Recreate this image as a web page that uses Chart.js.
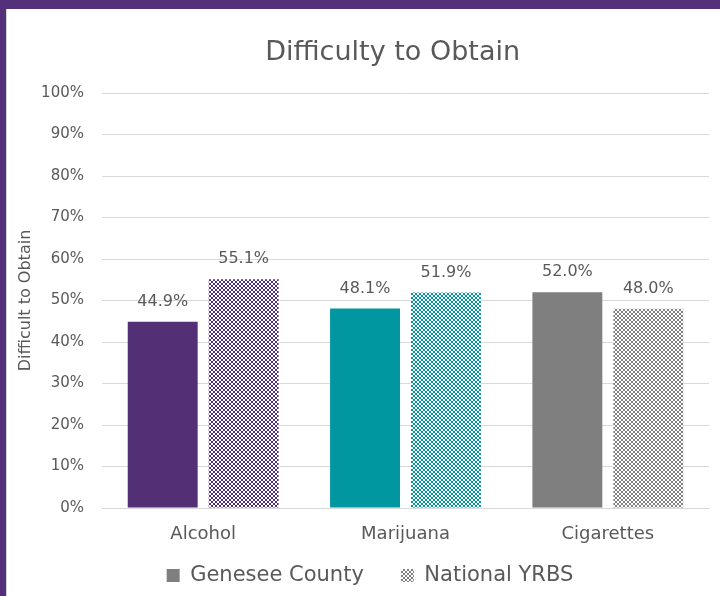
<!DOCTYPE html>
<html>
<head>
<meta charset="utf-8">
<script src="https://cdn.jsdelivr.net/npm/chart.js@4.4.0/dist/chart.umd.min.js"></script>
<style>
  html, body { margin: 0; padding: 0; }
  body { width: 720px; height: 596px; background: #55307a; position: relative; overflow: hidden; }
  #wrap { position: absolute; left: 6px; top: 9px; width: 714px; height: 587px; background: #ffffff; border-left: 1px solid #d6d6d6; box-sizing: border-box; }
</style>
</head>
<body>
<div id="wrap"><canvas id="difficulty-chart" width="713" height="587"></canvas></div>
<script>
// Chart values
const categories = ['Alcohol', 'Marijuana', 'Cigarettes'];
const geneseeValues = [44.9, 48.1, 52.0];
const nationalValues = [55.1, 51.9, 48.0];
const seriesNames = ['Genesee County', 'National YRBS'];
const categoryColors = ['#533076', '#0097a0', '#7f7f7f'];
const textColor = '#595959';
const fontFamily = '"DejaVu Sans", sans-serif';

// Function to build a small checkerboard fill like the Excel pattern
function makeChecker(color) {
  const tile = document.createElement('canvas');
  tile.width = 4;
  tile.height = 4;
  const tctx = tile.getContext('2d');
  tctx.fillStyle = '#ffffff';
  tctx.fillRect(0, 0, 4, 4);
  tctx.fillStyle = color;
  tctx.fillRect(0, 0, 2, 2);
  tctx.fillRect(2, 2, 2, 2);
  return tctx.createPattern(tile, 'repeat');
}

const ctx = document.getElementById('difficulty-chart').getContext('2d');
const checkerFills = categoryColors.map((c) => makeChecker(c));
const legendChecker = makeChecker('#7f7f7f');

// Plugin to write the value labels above each bar
const valueLabels = {
  id: 'valueLabels',
  afterDatasetsDraw(chart) {
    const c = chart.ctx;
    c.save();
    c.font = '16px ' + fontFamily;
    c.fillStyle = textColor;
    c.textAlign = 'center';
    c.textBaseline = 'middle';
    chart.data.datasets.forEach((ds, di) => {
      chart.getDatasetMeta(di).data.forEach((bar, i) => {
        c.fillText(ds.data[i].toFixed(1) + '%', bar.x, bar.y - 20);
      });
    });
    c.restore();
  }
};

new Chart(ctx, {
  type: 'bar',
  data: {
    labels: categories,
    datasets: [{
      label: seriesNames[0],
      data: geneseeValues,
      backgroundColor: categoryColors,
      borderWidth: 0,
      categoryPercentage: 0.8,
      barPercentage: 0.864
    }, {
      label: seriesNames[1],
      data: nationalValues,
      backgroundColor: checkerFills,
      borderWidth: 0,
      categoryPercentage: 0.8,
      barPercentage: 0.864
    }]
  },
  options: {
    responsive: false,
    animation: false,
    layout: { padding: { left: 24, right: 11, top: 0, bottom: 0 } },
    plugins: {
      title: {
        display: true,
        fullSize: false,
        // trailing spaces nudge the centred title a little left, like the original
        text: 'Difficulty to Obtain   ',
        color: textColor,
        font: { family: fontFamily, size: 27, weight: 'normal' },
        padding: { top: 28, bottom: 23.6 }
      },
      legend: {
        position: 'bottom',
        maxHeight: 50,
        labels: {
          color: textColor,
          font: { family: fontFamily, size: 21 },
          boxWidth: 13,
          boxHeight: 13,
          padding: 17,
          generateLabels() {
            return [
              { text: seriesNames[0] + '   ', fillStyle: '#7f7f7f', strokeStyle: '#7f7f7f', lineWidth: 0, datasetIndex: 0, fontColor: textColor },
              { text: seriesNames[1], fillStyle: legendChecker, strokeStyle: '#ffffff', lineWidth: 0, datasetIndex: 1, fontColor: textColor }
            ];
          }
        }
      },
      tooltip: { enabled: false }
    },
    scales: {
      x: {
        grid: { display: false, drawTicks: false },
        border: { color: '#d9d9d9' },
        ticks: { color: textColor, font: { family: fontFamily, size: 18 }, padding: 16 },
        afterFit: (scale) => { scale.height = 40; }
      },
      y: {
        min: 0,
        max: 100,
        ticks: {
          stepSize: 10,
          color: textColor,
          font: { family: fontFamily, size: 15 },
          padding: 18,
          callback: (v) => v + '%'
        },
        grid: { color: '#d9d9d9', drawTicks: false },
        border: { display: false },
        title: {
          display: true,
          text: 'Difficult to Obtain',
          color: textColor,
          font: { family: fontFamily, size: 16 },
          padding: { top: -15, bottom: 0 }
        },
        afterFit: (scale) => { scale.width = 71; }
      }
    }
  },
  plugins: [valueLabels]
});
</script>
</body>
</html>
